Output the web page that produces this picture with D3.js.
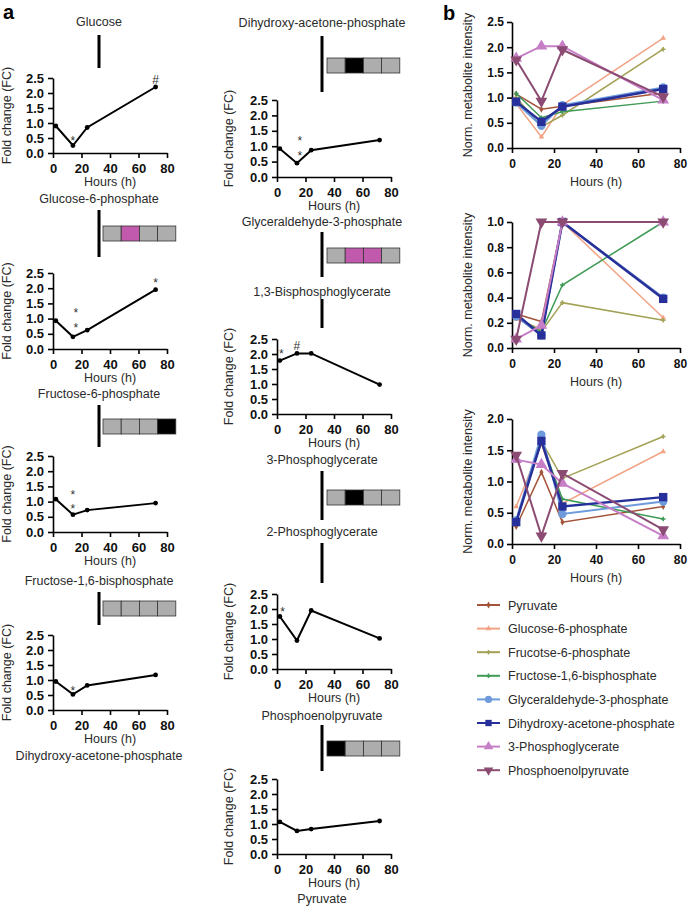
<!DOCTYPE html>
<html><head><meta charset="utf-8">
<script src="https://cdn.jsdelivr.net/npm/d3@7"></script>
<style>
body{margin:0;background:#fff;}
svg{display:block;font-family:"Liberation Sans",Arial,Helvetica,sans-serif;}
</style></head>
<body>
<svg id="chart" width="689" height="907"></svg>
<script>
// ---------- DATA ----------
const hours = [2, 14, 24, 72];
const xTicks = [0, 20, 40, 60, 80];
const fcTicks = [0, 0.5, 1.0, 1.5, 2.0, 2.5];

const fcGlucose = [0.9, 0.25, 0.85, 2.2];
const fcG6P     = [0.93, 0.4, 0.62, 1.95];
const fcF6P     = [1.08, 0.57, 0.72, 0.95];
const fcF16BP   = [0.95, 0.52, 0.82, 1.17];
const fcDHAP    = [0.92, 0.45, 0.87, 1.2];
const fcBPG     = [1.78, 2.02, 2.02, 0.98];
const fcPG2     = [1.75, 0.95, 1.95, 1.02];
const fcPyr     = [1.07, 0.77, 0.83, 1.1];

// significance marks: [hour, value, symbol]
const annGlucose = [[14, 0.42, "*"], [72, 2.48, "#"]];
const annG6P     = [[16, 1.22, "*"], [16, 0.72, "*"], [72, 2.22, "*"]];
const annF6P     = [[14, 1.24, "*"], [14, 0.8, "*"]];
const annF16BP   = [[14, 0.68, "*"]];
const annDHAP    = [[16, 1.2, "*"], [16, 0.7, "*"]];
const annBPG     = [[3, 2.05, "*"], [14, 2.3, "#"]];
const annPG2     = [[4, 1.95, "*"]];
const annPyr     = [];

// enzyme boxes (g = grey, m = magenta, k = black)
const boxG6P   = ["g", "m", "g", "g"];
const boxF6P   = ["g", "g", "g", "k"];
const boxF16BP = ["g", "g", "g", "g"];
const boxDHAP  = ["g", "k", "g", "g"];
const boxGAP   = ["g", "m", "m", "g"];
const boxPG3   = ["g", "k", "g", "g"];
const boxPEP   = ["k", "g", "g", "g"];

// panel b
const metabolites = ["Pyruvate", "Glucose-6-phosphate", "Frucotse-6-phosphate",
  "Fructose-1,6-bisphosphate", "Glyceraldehyde-3-phosphate",
  "Dihydroxy-acetone-phosphate", "3-Phosphoglycerate", "Phosphoenolpyruvate"];
const b1Ticks = [0, 0.5, 1.0, 1.5, 2.0, 2.5];
const b2Ticks = [0, 0.2, 0.4, 0.6, 0.8, 1.0];
const b3Ticks = [0, 0.5, 1.0, 1.5, 2.0];
const b1Pyr = [1.07, 0.77, 0.83, 1.09];
const b1G6P = [0.88, 0.22, 0.85, 2.18];
const b1F6P = [1.0, 0.42, 0.65, 1.96];
const b1F16 = [1.08, 0.6, 0.72, 0.93];
const b1GAP = [0.9, 0.44, 0.85, 1.2];
const b1DHAP = [0.92, 0.52, 0.82, 1.17];
const b1PG3 = [1.78, 2.02, 2.02, 0.95];
const b1PEP = [1.75, 0.93, 1.95, 1.02];

const b2Pyr = [0.27, 0.21, 1.0, 0.4];
const b2G6P = [0.23, 0.15, 1.0, 0.24];
const b2F6P = [0.25, 0.13, 0.36, 0.22];
const b2F16 = [0.25, 0.13, 0.5, 1.0];
const b2GAP = [0.25, 0.1, 1.0, 0.4];
const b2DHAP = [0.27, 0.1, 1.0, 0.39];
const b2PG3 = [0.07, 0.18, 1.0, 1.0];
const b2PEP = [0.07, 1.0, 1.0, 1.0];

const b3Pyr = [0.28, 1.15, 0.35, 0.6];
const b3G6P = [0.6, 1.6, 0.65, 1.48];
const b3F6P = [0.35, 1.65, 1.05, 1.72];
const b3F16 = [0.35, 1.65, 0.72, 0.4];
const b3GAP = [0.38, 1.75, 0.48, 0.68];
const b3DHAP = [0.35, 1.65, 0.6, 0.75];
const b3PG3 = [1.35, 1.27, 0.97, 0.13];
const b3PEP = [1.42, 0.13, 1.13, 0.23];

// ---------- STYLE ----------
const seriesColors = ["#a3543a", "#f2a385", "#a3a155", "#3f9a55", "#6d9bdb", "#27309a", "#c67ec6", "#8b4b72"];
const seriesSymbols = [d3.symbolDiamond, d3.symbolTriangle, d3.symbolCross, d3.symbolCross,
  d3.symbolCircle, d3.symbolSquare, d3.symbolTriangle, d3.symbolTriangle];
const symbolSizes = [14, 14, 12, 12, 55, 70, 60, 60];
const symbolRot = [0, 0, 0, 0, 0, 0, 0, 180];
const lineWidths = [1.5, 1.5, 1.5, 1.5, 2, 2.5, 2, 2];
const boxFill = {g: "#adadad", m: "#c159ad", k: "#000"};

const svg = d3.select("#chart");
const txtCol = "#2a2a2a";

svg.append("text").attr("x", 3).attr("y", 19).attr("font-size", 20).attr("font-weight", "bold").text("a");
svg.append("text").attr("x", 443).attr("y", 20).attr("font-size", 20).attr("font-weight", "bold").text("b");

function label(x, y, t) {
  svg.append("text").attr("x", x).attr("y", y).attr("text-anchor", "middle")
    .attr("font-size", 12.5).attr("fill", txtCol).text(t);
}
function vbar(x, y1, y2) {
  svg.append("line").attr("x1", x).attr("x2", x).attr("y1", y1).attr("y2", y2)
    .attr("stroke", "#000").attr("stroke-width", 3);
}
function box(x0, y0, cells) {
  const w = 18.2, h = 15;
  svg.append("g").selectAll("rect").data(cells).join("rect")
    .attr("x", (d, i) => x0 + i * w).attr("y", y0).attr("width", w).attr("height", h)
    .attr("fill", d => boxFill[d]).attr("stroke", "#333").attr("stroke-width", 0.8);
}

function styleAxis(g) {
  g.selectAll(".domain").attr("stroke", "#000").attr("stroke-width", 1.6);
  g.selectAll(".tick line").attr("stroke", "#000").attr("stroke-width", 1.6);
  g.selectAll("text").attr("font-size", 13).attr("font-weight", "bold").attr("fill", "#111")
    .attr("font-family", "Liberation Sans, Arial, sans-serif");
}

function fcPanel(x0, yTop, yBot, vals, ann, labelX) {
  const x = d3.scaleLinear().domain([0, 80]).range([x0, x0 + 114]);
  const y = d3.scaleLinear().domain([0, 2.5]).range([yBot, yTop]);
  const g = svg.append("g");
  const ya = g.append("g").attr("transform", `translate(${x0},0)`)
    .call(d3.axisLeft(y).tickValues(fcTicks).tickFormat(d3.format(".1f")).tickSize(5).tickSizeOuter(0));
  styleAxis(ya);
  ya.selectAll("text").attr("dx", -1);
  const xa = g.append("g").attr("transform", `translate(0,${yBot})`)
    .call(d3.axisBottom(x).tickValues(xTicks).tickSize(5).tickSizeOuter(0));
  styleAxis(xa);
  xa.selectAll("text").attr("y", 11);
  g.append("text").attr("x", x(40)).attr("y", yBot + 33).attr("text-anchor", "middle")
    .attr("font-size", 12.5).attr("fill", txtCol).text("Hours (h)");
  g.append("text").attr("transform", `translate(${labelX},${(yTop + yBot) / 2}) rotate(-90)`)
    .attr("text-anchor", "middle").attr("font-size", 12.5).attr("fill", txtCol).text("Fold change (FC)");
  const pts = hours.map((h, i) => [h, vals[i]]);
  g.append("path").datum(pts).attr("fill", "none").attr("stroke", "#000").attr("stroke-width", 2)
    .attr("d", d3.line().x(d => x(d[0])).y(d => y(d[1])));
  g.selectAll("circle.pt").data(pts).join("circle").attr("class", "pt")
    .attr("cx", d => x(d[0])).attr("cy", d => y(d[1])).attr("r", 2.4).attr("fill", "#000");
  g.selectAll("text.ann").data(ann).join("text").attr("class", "ann")
    .attr("x", d => x(d[0])).attr("y", d => y(d[1]) + 5).attr("text-anchor", "middle")
    .attr("font-size", 12).attr("fill", "#333").text(d => d[2]);
}

// ----- Left column -----
const LX = 99, LB = 103;
label(LX, 26, "Glucose");
vbar(LX, 35, 68);
fcPanel(53, 78, 153, fcGlucose, annGlucose, 11);
label(LX, 203, "Glucose-6-phosphate");
vbar(LX, 210, 257); box(LB, 226, boxG6P);
fcPanel(53, 273, 349, fcG6P, annG6P, 11);
label(LX, 398, "Fructose-6-phosphate");
vbar(LX, 405, 447); box(LB, 419, boxF6P);
fcPanel(53, 456, 532, fcF6P, annF6P, 11);
label(LX, 585, "Fructose-1,6-bisphosphate");
vbar(LX, 592, 625); box(LB, 601, boxF16BP);
fcPanel(53, 635, 710, fcF16BP, annF16BP, 11);
label(LX, 760, "Dihydroxy-acetone-phosphate");

// ----- Middle column -----
const MX = 322, MB = 327;
label(MX, 27, "Dihydroxy-acetone-phosphate");
vbar(MX, 36, 92); box(MB, 58, boxDHAP);
fcPanel(277, 100, 177, fcDHAP, annDHAP, 233);
label(MX, 226, "Glyceraldehyde-3-phosphate");
vbar(MX, 232, 277); box(MB, 248, boxGAP);
label(MX, 296, "1,3-Bisphosphoglycerate");
vbar(MX, 299, 328);
fcPanel(277, 339, 414, fcBPG, annBPG, 233);
label(MX, 464, "3-Phosphoglycerate");
vbar(MX, 471, 520); box(MB, 490, boxPG3);
label(MX, 536, "2-Phosphoglycerate");
vbar(MX, 543, 583);
fcPanel(277, 594, 669, fcPG2, annPG2, 233);
label(MX, 720, "Phosphoenolpyruvate");
vbar(MX, 725, 771); box(MB, 741, boxPEP);
fcPanel(277, 779, 854, fcPyr, annPyr, 233);
label(MX, 903, "Pyruvate");

// ----- Panel b -----
function bPanel(yTop, yBot, maxV, ticks, fmt, seriesVals) {
  const x = d3.scaleLinear().domain([0, 80]).range([512, 680]);
  const y = d3.scaleLinear().domain([0, maxV]).range([yBot, yTop]);
  const g = svg.append("g");
  const ya = g.append("g").attr("transform", "translate(512,0)")
    .call(d3.axisLeft(y).tickValues(ticks).tickFormat(d3.format(fmt)).tickSize(5).tickSizeOuter(0));
  styleAxis(ya);
  ya.selectAll("text").attr("font-size", 12);
  const xa = g.append("g").attr("transform", `translate(0,${yBot})`)
    .call(d3.axisBottom(x).tickValues(xTicks).tickSize(5).tickSizeOuter(0));
  styleAxis(xa);
  xa.selectAll("text").attr("font-size", 12).attr("y", 11);
  g.append("text").attr("x", x(40)).attr("y", yBot + 38).attr("text-anchor", "middle")
    .attr("font-size", 12.5).attr("fill", txtCol).text("Hours (h)");
  g.append("text").attr("transform", `translate(472,${(yTop + yBot) / 2}) rotate(-90)`)
    .attr("text-anchor", "middle").attr("font-size", 12.5).attr("fill", txtCol).text("Norm. metabolite intensity");
  seriesVals.forEach((vals, si) => {
    const pts = hours.map((h, i) => [h, vals[i]]);
    g.append("path").datum(pts).attr("fill", "none").attr("stroke", seriesColors[si])
      .attr("stroke-width", lineWidths[si]).attr("d", d3.line().x(d => x(d[0])).y(d => y(d[1])));
    g.selectAll(null).data(pts).join("path")
      .attr("transform", d => `translate(${x(d[0])},${y(d[1])}) rotate(${symbolRot[si]})`)
      .attr("d", d3.symbol().type(seriesSymbols[si]).size(symbolSizes[si]))
      .attr("fill", seriesColors[si]);
  });
}
bPanel(22, 148, 2.5, b1Ticks, ".1f", [b1Pyr, b1G6P, b1F6P, b1F16, b1GAP, b1DHAP, b1PG3, b1PEP]);
bPanel(222, 348, 1.0, b2Ticks, ".1f", [b2Pyr, b2G6P, b2F6P, b2F16, b2GAP, b2DHAP, b2PG3, b2PEP]);
bPanel(419, 544, 2.0, b3Ticks, ".1f", [b3Pyr, b3G6P, b3F6P, b3F16, b3GAP, b3DHAP, b3PG3, b3PEP]);

// legend
const leg = svg.append("g");
metabolites.forEach((m, i) => {
  const yy = 605 + i * 23.6;
  leg.append("line").attr("x1", 477).attr("x2", 500).attr("y1", yy).attr("y2", yy)
    .attr("stroke", seriesColors[i]).attr("stroke-width", 2);
  leg.append("path").attr("transform", `translate(488.5,${yy}) rotate(${symbolRot[i]})`)
    .attr("d", d3.symbol().type(seriesSymbols[i]).size(Math.min(symbolSizes[i], 40)))
    .attr("fill", seriesColors[i]);
  leg.append("text").attr("x", 508).attr("y", yy + 4.5).attr("font-size", 12.5)
    .attr("fill", txtCol).text(m);
});
</script>
</body></html>
